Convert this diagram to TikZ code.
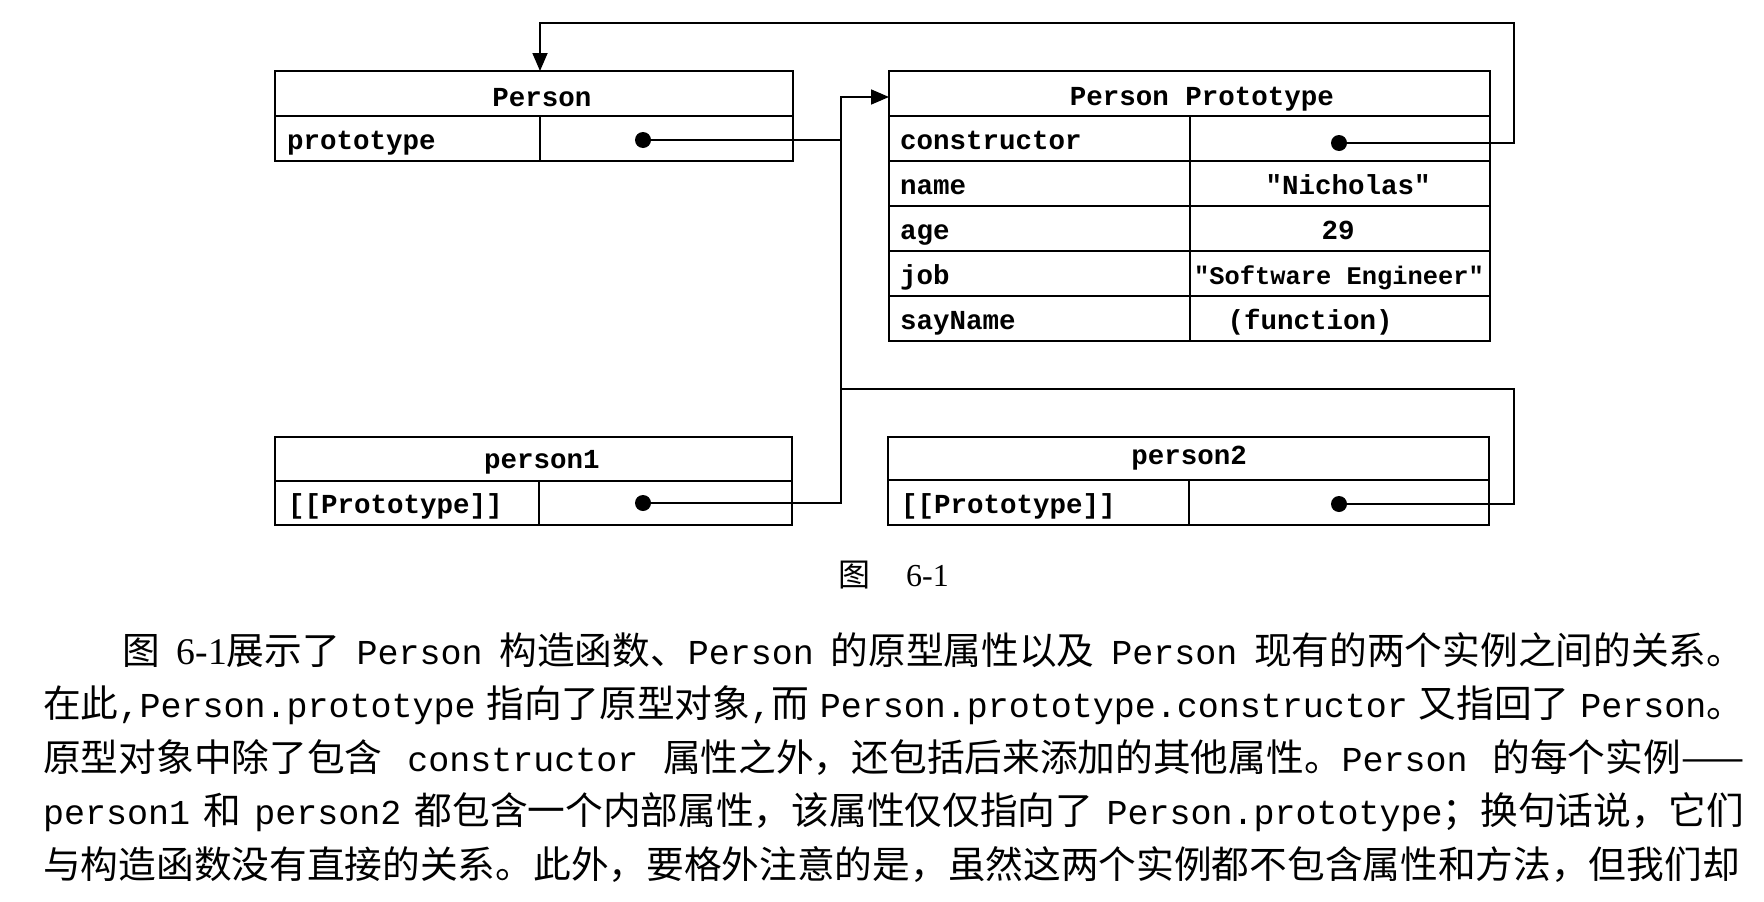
\documentclass[tikz,border=0pt]{standalone}
\usepackage{fontspec}
\setmonofont{Liberation Mono}
\newfontfamily\cjk{Noto Sans CJK SC}
\newfontfamily\numfont{Liberation Serif}
\usetikzlibrary{arrows.meta}
\newcommand\jg{\hspace{5pt plus 1fill}}
\newcommand\zhtxt[1]{{\cjk #1}}
\newcommand\mtt[1]{{\ttfamily\fontsize{35}{40}\selectfont #1}}
\tikzset{
  cell/.style={draw, line width=2pt, inner sep=0pt, outer sep=0pt, anchor=north west},
  lbl/.style={inner sep=0pt, anchor=base west, font=\ttfamily\bfseries\fontsize{27.5}{30}\selectfont},
  val/.style={lbl, anchor=base},
  dot/.style={circle, fill=black, inner sep=0pt, minimum size=16pt},
  conn/.style={line width=1.8pt},
  tip/.style={-{Triangle[length=18pt,width=15pt]}},
  para/.style={inner sep=0pt, anchor=base west, font=\fontsize{37.7}{40}\selectfont},
}
\begin{document}
\begin{tikzpicture}[x=1pt,y=-1pt]
\fill[white] (0,0) rectangle (1764,902);
\useasboundingbox (0,0) rectangle (1764,902);

% Person
\node[cell, minimum width=518pt, minimum height=45pt] (pH) at (275,71) {};
\node[cell, minimum width=265pt, minimum height=45pt] (pK) at (275,116) {};
\node[cell, minimum width=253pt, minimum height=45pt] (pV) at (540,116) {};
\node[val] (tpH) at (542,106) {Person};
\node[lbl] (tpK) at (287,149) {prototype};

% Person Prototype
\node[cell, minimum width=601pt, minimum height=45pt] (ppH) at (889,71) {};
\foreach \i/\y in {1/116,2/161,3/206,4/251,5/296}{
  \node[cell, minimum width=301pt, minimum height=45pt] (ppK\i) at (889,\y) {};
  \node[cell, minimum width=300pt, minimum height=45pt] (ppV\i) at (1190,\y) {};
}
\node[val] (tppH) at (1202,105) {Person Prototype};
\node[lbl] (tk1) at (900,149) {constructor};
\node[lbl] (tk2) at (900,194) {name};
\node[lbl] (tk3) at (900,239) {age};
\node[lbl] (tk4) at (900,284) {job};
\node[lbl] (tk5) at (900,329) {sayName};
\node[val] (tv2) at (1348,194) {"Nicholas"};
\node[val] (tv3) at (1338,239) {29};
\node[val, font=\ttfamily\bfseries\fontsize{25.4}{28}\selectfont] (tv4) at (1339,284) {"Software Engineer"};
\node[val] (tv5) at (1310,329) {(function)};

% person1
\node[cell, minimum width=517pt, minimum height=44pt] (aH) at (275,437) {};
\node[cell, minimum width=264pt, minimum height=44pt] (aK) at (275,481) {};
\node[cell, minimum width=253pt, minimum height=44pt] (aV) at (539,481) {};
\node[val] (taH) at (542,468.5) {person1};
\node[lbl] (taK) at (288,513.5) {[[Prototype]]};

% person2
\node[cell, minimum width=601pt, minimum height=43pt] (bH) at (888,437) {};
\node[cell, minimum width=301pt, minimum height=45pt] (bK) at (888,480) {};
\node[cell, minimum width=300pt, minimum height=45pt] (bV) at (1189,480) {};
\node[val] (tbH) at (1189,464) {person2};
\node[lbl] (tbK) at (901,513) {[[Prototype]]};

% dots
\node[dot] (d1) at (643,140) {};
\node[dot] (d2) at (1339,143) {};
\node[dot] (d3) at (643,503) {};
\node[dot] (d4) at (1339,504) {};

% junctions
\coordinate (jA) at (841,140);
\coordinate (jT) at (841,97);
\coordinate (jB) at (841,503);
\coordinate (jC) at (841,389);
\coordinate (rA) at (1514,143);
\coordinate (rB) at (1514,23);
\coordinate (rC) at (540,23);
\coordinate (rD) at (1514,504);
\coordinate (rE) at (1514,389);

\draw[conn] (d1.center) -- (jA);
\draw[conn, tip] (d3.center) -- (jB) -- (jT) -- (jT -| ppH.west);
\draw[conn] (d4.center) -- (rD) -- (rE) -- (jC);
\draw[conn, tip] (d2.center) -- (rA) -- (rB) -- (rC) -- (rC |- pH.north);

% caption
\node[inner sep=0pt, anchor=base west, font=\fontsize{32}{34}\selectfont] (cap) at (838,586) {\zhtxt{图}\hspace{36pt}{\numfont 6-1}};

% paragraph
\node[para] (l1) at (122,664) {\makebox[1622pt][s]{\zhtxt{图}\jg{\numfont 6-1}\zhtxt{展示了}\jg\mtt{Person}\jg\zhtxt{构造函数、}\mtt{Person}\jg\zhtxt{的原型属性以及}\jg\mtt{Person}\jg\zhtxt{现有的两个实例之间的关系。}}};
\node[para] (l2) at (43,717.5) {\makebox[1701pt][s]{\zhtxt{在此}\mtt{,Person.prototype}\jg\zhtxt{指向了原型对象}\mtt{,}\zhtxt{而}\jg\mtt{Person.prototype.constructor}\jg\zhtxt{又指回了}\jg\mtt{Person}\zhtxt{。}}};
\node[para] (l3) at (43,771) {\makebox[1701pt][s]{\zhtxt{原型对象中除了包含}\jg\mtt{constructor}\jg\zhtxt{属性之外，还包括后来添加的其他属性。}\mtt{Person}\jg\zhtxt{的每个实例——}}};
\node[para] (l4) at (43,824.5) {\makebox[1701pt][s]{\mtt{person1}\jg\zhtxt{和}\jg\mtt{person2}\jg\zhtxt{都包含一个内部属性，该属性仅仅指向了}\jg\mtt{Person.prototype}\zhtxt{；换句话说，它们}}};
\node[para] (l5) at (43,878) {\makebox[1701pt][s]{\zhtxt{与构造函数没有直接的关系。此外，要格外注意的是，虽然这两个实例都不包含属性和方法，但我们却}}};
\end{tikzpicture}
\end{document}
